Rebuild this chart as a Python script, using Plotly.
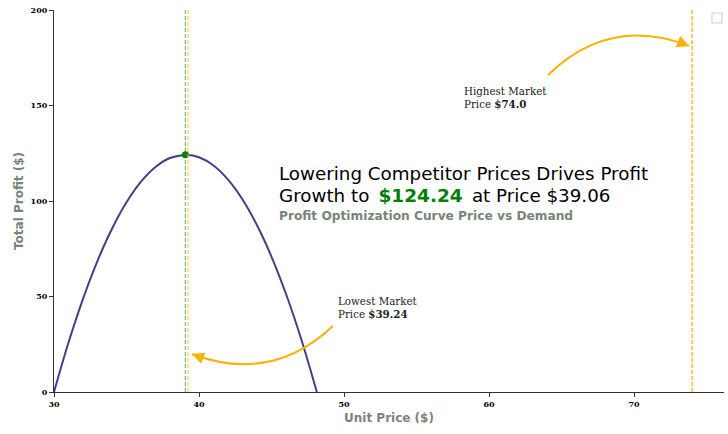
import plotly.graph_objects as go

# profit curve (unit price -> total profit)
prices = [30, 31, 32, 33, 34, 35, 36, 37, 38, 39, 39.06, 40, 41, 42, 43, 44, 45, 46, 47, 48, 48.12]
profits = [0, 25.9, 48.8, 68.7, 85.5, 99.3, 110.1, 117.8, 122.5, 124.2, 124.24,
           122.9, 118.6, 111.2, 100.8, 87.3, 70.8, 51.3, 28.8, 3.3, 0]

best_price = 39.06
best_profit = 124.24
lowest_market = 39.24
highest_market = 74.0

fig = go.Figure()

fig.add_trace(go.Scatter(
    x=prices, y=profits, mode='lines', line_shape='spline',
    line=dict(color='#483D8B', width=2), showlegend=False,
))

# reference lines
fig.add_vline(x=best_price, line=dict(color='rgba(0,128,0,0.5)', width=1.3, dash='4px,2px'))
fig.add_vline(x=lowest_market, line=dict(color='rgba(255,200,40,0.75)', width=1.3, dash='4px,2px'))
fig.add_vline(x=highest_market, line=dict(color='#FFB000', width=1.3, dash='4px,2px'))

fig.add_trace(go.Scatter(
    x=[best_price], y=[best_profit], mode='markers',
    marker=dict(color='green', size=7), showlegend=False,
))


def curved_arrow(x0, y0, x1, y1, cx, cy):
    # quadratic bezier body + short straight annotation for the head
    fig.add_shape(type='path', xref='x', yref='y',
                  path=f'M {x0},{y0} Q {cx},{cy} {x1},{y1}',
                  line=dict(color='#FFB000', width=2))
    fig.add_annotation(x=x1, y=y1, ax=x1 + 0.08 * (cx - x1), ay=y1 + 0.08 * (cy - y1),
                       xref='x', yref='y', axref='x', ayref='y', text='',
                       showarrow=True, arrowhead=2, arrowsize=1.2, arrowwidth=2,
                       arrowcolor='#FFB000')


curved_arrow(49.24, 34.6, lowest_market + 0.28, 19.9, 44.98, 4.2)
curved_arrow(64.07, 166.0, highest_market - 0.2, 181.2, 68.29, 197.2)

serif = 'DejaVu Serif'
fig.add_annotation(x=49.45, y=44, xref='x', yref='y', xanchor='left', yanchor='middle',
                   text=f'Lowest Market<br>Price <b>${lowest_market}</b>', showarrow=False,
                   align='left', font=dict(family=serif, size=10.3, color='#222'))
fig.add_annotation(x=58.14, y=154, xref='x', yref='y', xanchor='left', yanchor='middle',
                   text=f'Highest Market<br>Price <b>${highest_market}</b>', showarrow=False,
                   align='left', font=dict(family=serif, size=10.3, color='#222'))

# title block inside the plot
sans = 'DejaVu Sans'
fig.add_annotation(x=0.333, y=0.571, xref='paper', yref='paper', xanchor='left', yanchor='middle',
                   text='Lowering Competitor Prices Drives Profit', showarrow=False,
                   font=dict(family=sans, size=18.3, color='black'))
fig.add_annotation(x=0.333, y=0.515, xref='paper', yref='paper', xanchor='left', yanchor='middle',
                   text=(f'Growth to&#8194;<span style="color:green;font-size:18.5px"><b>${best_profit}</b></span>'
                         f'&#8194;at Price ${best_price}'),
                   showarrow=False, font=dict(family=sans, size=18.3, color='black'))
fig.add_annotation(x=0.333, y=0.462, xref='paper', yref='paper', xanchor='left', yanchor='middle',
                   text='<b>Profit Optimization Curve Price vs Demand</b>', showarrow=False,
                   font=dict(family=sans, size=12.2, color='#778577'))

# empty legend box
fig.add_shape(type='rect', xref='paper', yref='paper', x0=0.982, x1=0.997, y0=0.966, y1=0.992,
              line=dict(color='#cccccc', width=1), fillcolor='white')

axis_title_font = dict(family=sans, size=12, color='#778577', weight='bold')
tick_font = dict(family=serif, size=8, color='black', weight='bold')

fig.update_xaxes(range=[30, 76.2], tickvals=[30, 40, 50, 60, 70], ticks='outside', ticklen=4,
                 tickcolor='#333', showline=True, linecolor='#333', linewidth=1.2,
                 showgrid=False, zeroline=False, tickfont=tick_font, ticklabeloverflow='allow',
                 automargin='bottom',
                 title=dict(text='Unit Price ($)', font=axis_title_font, standoff=5))
fig.update_yaxes(range=[0, 200], tickvals=[0, 50, 100, 150, 200], ticks='outside', ticklen=4,
                 tickcolor='#333', showline=True, linecolor='#333', linewidth=1.2,
                 showgrid=False, zeroline=False, tickfont=tick_font, ticklabeloverflow='allow',
                 automargin='left',
                 title=dict(text='Total Profit ($)', font=axis_title_font, standoff=4))

fig.update_layout(
    width=728, height=434,
    margin=dict(l=54, r=4, t=10, b=42),
    plot_bgcolor='white', paper_bgcolor='white',
    showlegend=False,
)

# drop the default page margin so the figure fills the window exactly
fig.write_html("out.html", config={'displayModeBar': False},
               post_script="document.body.style.margin='0';"
                           "document.documentElement.style.overflow='hidden';")
